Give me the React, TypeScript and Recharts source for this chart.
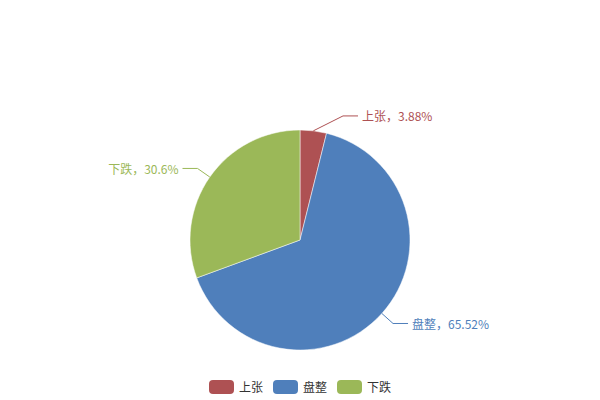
import { PieChart, Pie, Cell, Legend } from 'recharts';

const NAMES = ['上张', '盘整', '下跌'];
const VALUES = [3.88, 65.52, 30.6];
const COLORS = ['#ae5153', '#4f7fbb', '#9bb858'];

const data = NAMES.map((name, i) => ({ name, value: VALUES[i] }));

const RAD = Math.PI / 180;

function renderLabel(props: any) {
  const { cx, cy, midAngle, outerRadius, index } = props;
  const cos = Math.cos(-midAngle * RAD);
  const sin = Math.sin(-midAngle * RAD);
  const sx = cx + outerRadius * cos;
  const sy = cy + outerRadius * sin;
  const side = cos >= 0 ? 1 : -1;
  // elbow, pushed out a bit for labels near the top
  const ex = cx + side * Math.max(Math.abs((outerRadius + 15) * cos), 43);
  const ey = cy + (outerRadius + 15) * sin;
  const hx = ex + side * 15;
  const color = COLORS[index % COLORS.length];
  return (
    <g key={`lbl-${index}`}>
      <polyline points={`${sx},${sy} ${ex},${ey} ${hx},${ey}`} fill="none" stroke={color} strokeWidth={1} />
      <text
        x={hx + side * 4}
        y={ey}
        fill={color}
        fontSize={12}
        textAnchor={side > 0 ? 'start' : 'end'}
        dominantBaseline="central"
        fontFamily="'Noto Sans CJK SC', sans-serif"
      >
        {`${NAMES[index]}，${VALUES[index]}%`}
      </text>
    </g>
  );
}

function renderLegend() {
  return (
    <div style={{ display: 'flex', justifyContent: 'center', gap: 10, fontFamily: "'Noto Sans CJK SC', sans-serif", fontSize: 12, color: '#333' }}>
      {NAMES.map((n, i) => (
        <div key={n} style={{ display: 'flex', alignItems: 'center', gap: 5 }}>
          <span style={{ width: 25, height: 14, borderRadius: 4, background: COLORS[i], display: 'inline-block' }} />
          <span>{n}</span>
        </div>
      ))}
    </div>
  );
}

export default function App() {
  return (
    <div style={{ position: 'absolute', left: 0, top: 0, width: 600, height: 400, background: '#fff' }}>
      <PieChart width={600} height={400} margin={{ top: 0, right: 0, bottom: 0, left: 0 }}>
        <Pie
          data={data}
          dataKey="value"
          nameKey="name"
          cx={300}
          cy={240}
          outerRadius={110}
          startAngle={90}
          endAngle={-270}
          stroke="#fff"
          strokeWidth={0.5}
          label={renderLabel}
          labelLine={false}
          isAnimationActive={false}
        >
          {data.map((_d, i) => (
            <Cell key={`cell-${i}`} fill={COLORS[i]} />
          ))}
        </Pie>
        <Legend content={renderLegend} verticalAlign="bottom" wrapperStyle={{ top: 378, bottom: 'auto', left: 0, width: 600 }} />
      </PieChart>
    </div>
  );
}
